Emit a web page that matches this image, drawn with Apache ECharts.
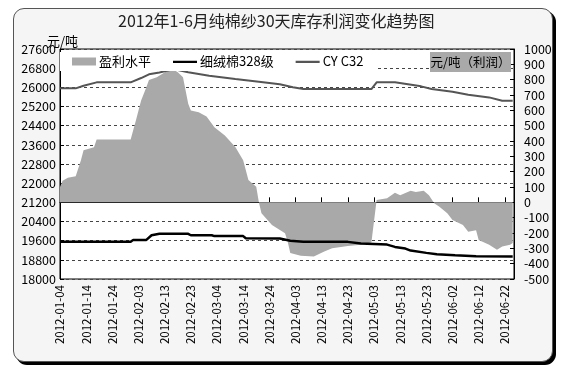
<!DOCTYPE html>
<html>
<head>
<meta charset="utf-8">
<script src="https://cdn.jsdelivr.net/npm/echarts@6/dist/echarts.min.js"></script>
<style>
html,body{margin:0;padding:0;background:#fff;}
#frame{position:absolute;left:13px;top:8px;width:538px;height:352px;border:1px solid #555;border-radius:11px;box-shadow:3px 3px 0 #000;background:#f5f5f5;}
#chart{position:absolute;left:0;top:0;width:575px;height:374px;}
</style>
</head>
<body>
<div id="frame"></div>
<div id="chart"></div>
<script>
// ---- data ----
const titleText = '2012年1-6月纯棉纱30天库存利润变化趋势图';
const seriesNames = ['盈利水平', '细绒棉328级', 'CY C32'];
const startDate = '2012-01-04';
const endDate = '2012-06-25';

const profitDates = ['2012-01-04','2012-01-05','2012-01-07','2012-01-10','2012-01-12','2012-01-13','2012-01-17','2012-01-18','2012-01-31','2012-02-02','2012-02-04','2012-02-06','2012-02-07','2012-02-10','2012-02-14','2012-02-15','2012-02-16','2012-02-18','2012-02-20','2012-02-22','2012-02-23','2012-02-26','2012-02-29','2012-03-03','2012-03-07','2012-03-11','2012-03-14','2012-03-16','2012-03-19','2012-03-20','2012-03-21','2012-03-25','2012-03-30','2012-03-31','2012-04-01','2012-04-05','2012-04-10','2012-04-14','2012-04-17','2012-04-23','2012-04-28','2012-05-02','2012-05-04','2012-05-08','2012-05-11','2012-05-13','2012-05-17','2012-05-19','2012-05-22','2012-05-24','2012-05-26','2012-05-28','2012-05-31','2012-06-02','2012-06-06','2012-06-08','2012-06-11','2012-06-12','2012-06-16','2012-06-19','2012-06-21','2012-06-24','2012-06-25'];
const profitValues = [100,140,160,170,275,340,360,410,410,534,664,750,798,815,858,902,870,848,815,643,599,588,560,490,436,361,275,145,101,0,-72,-148,-201,-256,-331,-349,-353,-320,-299,-284,-277,-262,15,26,62,47,75,67,75,47,-6,-29,-72,-115,-148,-192,-182,-245,-277,-310,-288,-277,-266];

const cottonDates = ['2012-01-04','2012-01-31','2012-02-01','2012-02-06','2012-02-08','2012-02-11','2012-02-22','2012-02-23','2012-03-02','2012-03-03','2012-03-14','2012-03-15','2012-03-28','2012-04-01','2012-04-06','2012-04-23','2012-04-28','2012-05-08','2012-05-11','2012-05-15','2012-05-17','2012-05-23','2012-05-27','2012-06-03','2012-06-11','2012-06-25'];
const cottonValues = [19550,19550,19633,19633,19826,19885,19885,19826,19826,19790,19790,19700,19690,19600,19550,19550,19478,19436,19340,19270,19185,19090,19030,18990,18946,18940];

const yarnDates = ['2012-01-04','2012-01-10','2012-01-13','2012-01-18','2012-01-31','2012-02-04','2012-02-07','2012-02-11','2012-02-15','2012-02-18','2012-02-22','2012-03-01','2012-03-11','2012-03-20','2012-03-28','2012-04-02','2012-04-06','2012-05-02','2012-05-04','2012-05-11','2012-05-21','2012-05-25','2012-06-02','2012-06-08','2012-06-16','2012-06-21','2012-06-25'];
const yarnValues = [25957,25957,26066,26208,26208,26388,26543,26620,26723,26723,26627,26485,26347,26234,26130,26000,25928,25928,26208,26208,26041,25928,25815,25689,25580,25438,25438];

const leftMin = 18000, leftMax = 27600, leftStep = 800;
const rightMin = -500, rightMax = 1000, rightStep = 100;
const labelEveryDays = 10;

// ---- helpers ----
const DAY = 86400000;
function toMs(s){ const p = s.split('-').map(Number); return Date.UTC(p[0], p[1]-1, p[2]); }
const t0 = toMs(startDate);
function dayIdx(s){ return Math.round((toMs(s) - t0) / DAY); }
function pairs(d, v){ return d.map((s,i)=>[dayIdx(s), v[i]]); }
function dayLabel(v){
  if (Math.abs(v - Math.round(v)) > 1e-6 || Math.round(v) % labelEveryDays !== 0) return '';
  return new Date(t0 + Math.round(v) * DAY).toISOString().slice(0,10);
}
function plain(v){ return String(v); }

const FONT = '"Noto Sans CJK SC", sans-serif';
// thin horizontal bar icon whose bounding box spans the full legend item box
const LINE_ICON = 'path://M0,0L0,0.01M0,3.2L24,3.2L24,5.4L0,5.4ZM24,8L24,7.99';

const chart = echarts.init(document.getElementById('chart'), null, {renderer:'canvas'});
chart.setOption({
  animation: false,
  textStyle: {fontFamily: FONT},
  grid: {left: 60, top: 49, right: 61, bottom: 95, show: true, backgroundColor: '#fff', borderColor: '#000', borderWidth: 1},
  legend: {
    left: 60, top: 52, padding: [3, 12, 3, 12], backgroundColor: '#fff',
    itemWidth: 24, itemHeight: 8, itemGap: 22,
    textStyle: {fontSize: 13, color: '#000', fontFamily: FONT, padding: [0,0,0,-2]},
    data: [
      {name: seriesNames[0], icon: 'rect'},
      {name: seriesNames[1], icon: LINE_ICON},
      {name: seriesNames[2], icon: LINE_ICON}
    ]
  },
  graphic: [
    {type: 'text', left: 118, top: 13, z: 100,
     style: {text: titleText, font: '16px ' + FONT, fill: '#222'}},
    {type: 'text', x: 47, y: 41, z: 100,
     style: {text: '元/吨', font: '13px ' + FONT, fill: '#000', textVerticalAlign: 'middle'}},
    {type: 'rect', shape: {x: 430, y: 52, width: 81, height: 20}, z: 100, style: {fill: '#a9a9a9'}},
    {type: 'text', x: 470.5, y: 62, z: 101,
     style: {text: '元/吨（利润）', font: '12.5px ' + FONT, fill: '#000', textAlign: 'center', textVerticalAlign: 'middle'}}
  ],
  xAxis: {
    type: 'value', min: 0, max: dayIdx(endDate) + 0.5, interval: labelEveryDays,
    axisLine: {lineStyle: {color: '#000'}},
    axisTick: {inside: true, length: 5, lineStyle: {color: '#000'}},
    splitLine: {show: false},
    axisLabel: {rotate: 90, fontSize: 11.5, color: '#000', margin: 6, formatter: dayLabel, showMaxLabel: false}
  },
  yAxis: [
    {type: 'value', min: leftMin, max: leftMax, interval: leftStep,
     axisLine: {show: true, lineStyle: {color: '#000'}},
     axisTick: {show: true, inside: true, length: 4, lineStyle: {color: '#000'}},
     axisLabel: {fontSize: 12.5, color: '#000', margin: 4, formatter: plain},
     splitLine: {show: true, lineStyle: {color: '#444', type: [3, 3], width: 1}}},
    {type: 'value', min: rightMin, max: rightMax, interval: rightStep, position: 'right',
     axisLine: {show: true, lineStyle: {color: '#000'}},
     axisTick: {show: true, inside: true, length: 4, lineStyle: {color: '#000'}},
     axisLabel: {fontSize: 12.5, color: '#000', margin: 10, formatter: plain},
     splitLine: {show: false}}
  ],
  series: [
    {name: seriesNames[0], type: 'line', yAxisIndex: 1, symbol: 'none',
     data: pairs(profitDates, profitValues),
     lineStyle: {width: 0, color: '#a9a9a9'}, itemStyle: {color: '#a9a9a9'},
     areaStyle: {color: '#a9a9a9', opacity: 1, origin: 0}, z: 1},
    {name: seriesNames[1], type: 'line', yAxisIndex: 0, symbol: 'none',
     data: pairs(cottonDates, cottonValues),
     lineStyle: {width: 2.5, color: '#000'}, itemStyle: {color: '#000'}, z: 3},
    {name: seriesNames[2], type: 'line', yAxisIndex: 0, symbol: 'none',
     data: pairs(yarnDates, yarnValues),
     lineStyle: {width: 2, color: '#555'}, itemStyle: {color: '#555'}, z: 3}
  ]
});
</script>
</body>
</html>
